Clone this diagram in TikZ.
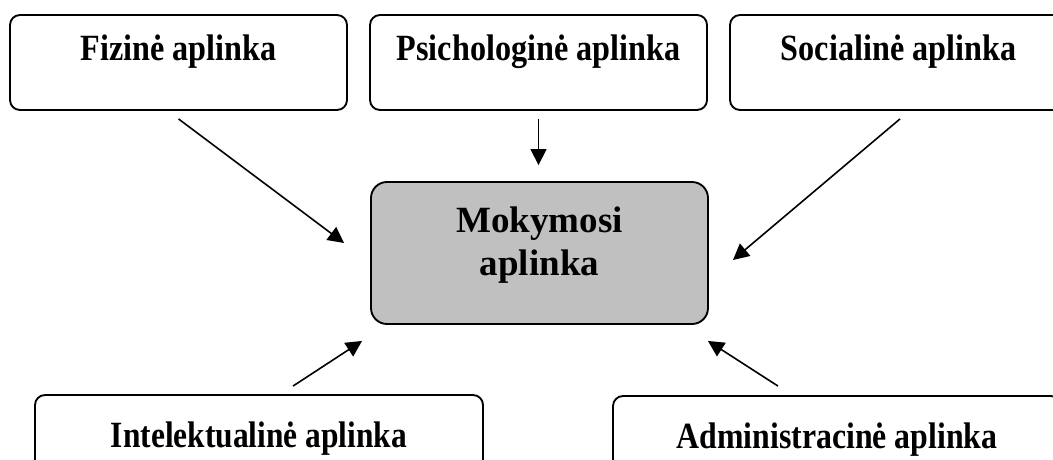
\documentclass[tikz,border=0pt]{standalone}
\usepackage{fontspec}
\setmainfont{Liberation Serif}
\usepackage{tikz}
\usetikzlibrary{calc}
\usetikzlibrary{arrows.meta}
\tikzset{>={Triangle[width=12pt,length=12pt]}}
\definecolor{boxgray}{RGB}{192,192,192}
\newcommand{\narrowtxt}[2][0.87]{\scalebox{#1}[1]{#2}}

\begin{document}
\begin{tikzpicture}[
    x = 0.75pt, y = -0.75pt,
    font = \bfseries\fontsize{27.75}{32.25}\selectfont,
    box/.style = {draw, line width=1.4pt, rounded corners=7.5pt,
        minimum width=252.75pt, minimum height=71.25pt, inner sep=0pt,
        text height=18.75pt, text depth=21pt},
    lowbox/.style = {box, minimum width=336pt, text depth=12pt},
    midbox/.style = {box, fill=boxgray, rounded corners=12pt,
        minimum height=106.5pt, align=center,
        text height=, text depth=18pt},
    arr/.style = {->, line width=1.2pt}
  ]
  \useasboundingbox (0,0) rectangle (1053,460);

  \foreach \name/\x/\txt in {fiz/178.5/Fizinė aplinka,
      psi/538.5/Psichologinė aplinka, soc/898.5/Socialinė aplinka}
  \node[box] (\name) at (\x,62.5) {\narrowtxt{\txt}};

  \node[midbox] (mid) at (539.5,253) {Mokymosi\\aplinka};

  \node[lowbox] (int) at (259,442.5) {\narrowtxt[0.85]{Intelektualinė aplinka}};
  \node[lowbox] (adm) at (837,443.5) {\narrowtxt[0.86]{Administracinė aplinka}};

  \draw[arr] ($(fiz.south)+(0,8)$) -- ($(mid.west)+(-26,-10)$);
  \draw[arr] ($(psi.south)+(0,8)$) -- ($(mid.north)+(-1,-16)$);
  \draw[arr] ($(soc.south)+(1.5,8)$) -- ($(mid.east)+(24,7)$);
  \draw[arr] ($(int.north)+(34,-8)$) -- ($(mid.south west)+(-8,16)$);
  \draw[arr] ($(adm.north)+(-59,-9)$) -- ($(mid.south east)+(-1,16)$);
\end{tikzpicture}
\end{document}
